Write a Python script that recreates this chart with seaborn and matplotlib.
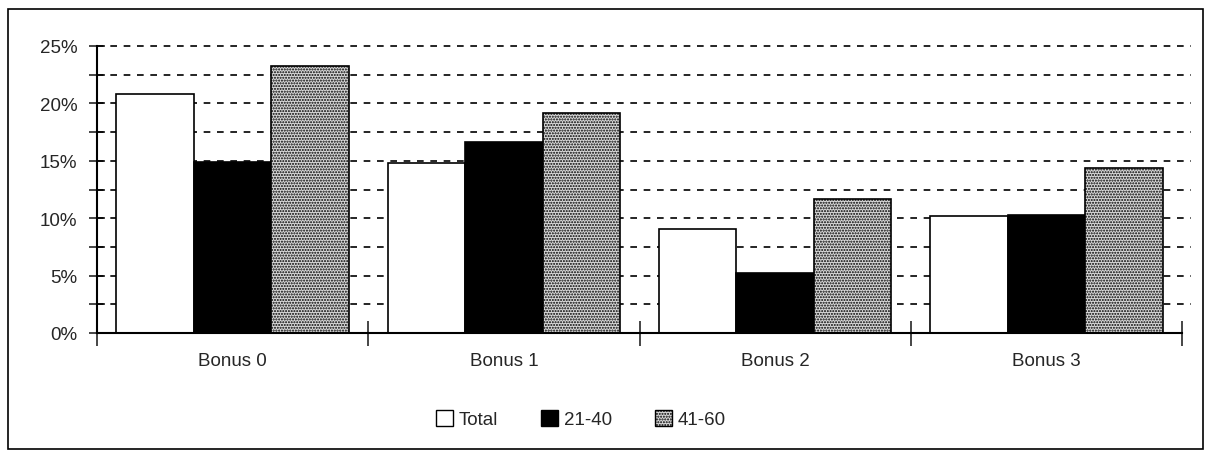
import matplotlib
matplotlib.use("Agg")
import matplotlib.pyplot as plt
import matplotlib.patches as mpatches
import numpy as np
import pandas as pd
import seaborn as sns

categories = ["Bonus 0", "Bonus 1", "Bonus 2", "Bonus 3"]
series_names = ["Total", "21-40", "41-60"]
total_vals = [20.8, 14.8, 9.1, 10.2]
age_21_40_vals = [14.9, 16.6, 5.2, 10.3]
age_41_60_vals = [23.3, 19.2, 11.7, 14.4]
ytick_labels = ["0%", "5%", "10%", "15%", "20%", "25%"]

df = pd.DataFrame({
    "cat": categories * 3,
    "series": [s for s in series_names for _ in categories],
    "value": total_vals + age_21_40_vals + age_41_60_vals,
})

sns.set_style("white")
plt.rcParams["font.family"] = ["Liberation Sans", "DejaVu Sans"]
plt.rcParams["hatch.linewidth"] = 1.0
plt.rcParams["hatch.color"] = "#555555"

fig = plt.figure(figsize=(12.05, 4.52), dpi=100)
ax = fig.add_axes([97/1205, 1-334/452, (1182-97)/1205, (334-47)/452])

palette = {"Total": "white", "21-40": "black", "41-60": "#d9d9d9"}
sns.barplot(data=df, x="cat", y="value", hue="series", hue_order=series_names,
            order=categories, palette=palette, width=0.857, gap=0,
            edgecolor="black", linewidth=1.2, saturation=1, ax=ax, legend=False,
            zorder=3)

# hatch the 41-60 bars
nb = len(categories)
for i, p in enumerate(ax.patches[:3*nb]):
    if i >= 2*nb:
        p.set_hatch("......")

ax.set_xlim(-0.5, 3.5)
ax.set_ylim(0, 25)
ax.set_yticks(np.arange(0, 26, 5))
ax.set_yticklabels(ytick_labels)
ax.set_yticks(np.arange(2.5, 25, 5), minor=True)
for y in np.arange(2.5, 25.1, 2.5):
    ax.axhline(y, color="black", linestyle=(0, (4, 4)), linewidth=1.2, zorder=1,
               xmax=1.008, clip_on=False)

ax.set_xticks(np.arange(len(categories)))
ax.set_xticklabels(categories)
ax.set_xticks(np.arange(-0.5, 3.6, 1), minor=True)
ax.tick_params(axis="x", which="both", bottom=True)
ax.tick_params(axis="y", which="both", left=True)
ax.tick_params(axis="x", which="major", length=0, pad=14, labelsize=13.5)
ax.tick_params(axis="x", which="minor", direction="inout", length=18, width=1.2)
ax.tick_params(axis="y", which="both", direction="inout", length=12, width=1.2, pad=8,
               labelsize=13.5)
ax.set_xlabel("")
ax.set_ylabel("")
for s in ["top", "right"]:
    ax.spines[s].set_visible(False)
for s in ["left", "bottom"]:
    ax.spines[s].set_linewidth(1.5)
    ax.spines[s].set_color("black")
    ax.spines[s].set_zorder(4)

handles = [mpatches.Patch(facecolor=palette[s], edgecolor="black", linewidth=1.0,
                          hatch=("......" if s == "41-60" else None), label=s)
           for s in series_names]
fig.legend(handles=handles, loc="center", bbox_to_anchor=(0.482, 0.07), ncol=3,
           frameon=False, fontsize=13.5, handlelength=0.9, handleheight=0.9,
           handletextpad=0.3, columnspacing=2.3)

border = mpatches.Rectangle((8/1205, 2/452), 1-10/1205, 1-12/452, transform=fig.transFigure,
                            fill=False, edgecolor="black", linewidth=1.2)
fig.patches.append(border)

fig.savefig("out.png", dpi=100)
